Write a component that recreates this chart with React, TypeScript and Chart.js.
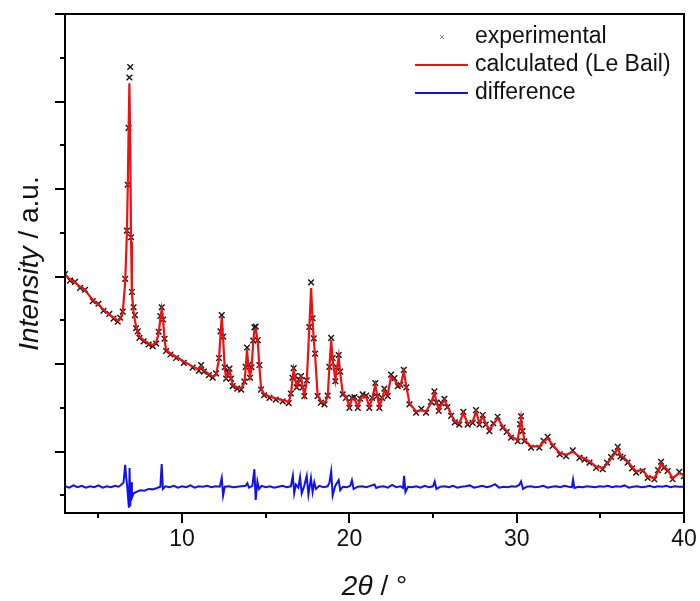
import React, { useEffect, useRef } from 'react';
import { Chart, registerables } from 'chart.js';

Chart.register(...registerables);

// 2θ positions (degrees) for the observed / calculated patterns
const twoTheta = [
  3.0, 3.3, 3.6, 3.9, 4.2, 4.66, 5.0, 5.3, 5.65, 5.9,
  6.15, 6.3, 6.45, 6.6, 6.7, 6.75, 6.8, 6.85, 6.9, 6.95,
  7.0, 7.1, 7.18, 7.25, 7.35, 7.45, 7.7, 8.0, 8.24, 8.45,
  8.6, 8.7, 8.78, 8.86, 8.95, 9.04, 9.3, 9.64, 10.1, 10.63,
  11.0, 11.14, 11.3, 11.6, 11.83, 12.03, 12.2, 12.3, 12.37, 12.45,
  12.55, 12.63, 12.75, 12.83, 12.92, 13.02, 13.3, 13.53, 13.72, 13.8,
  13.88, 13.96, 14.06, 14.15, 14.25, 14.32, 14.4, 14.52, 14.62, 14.72,
  14.9, 15.22, 15.6, 16.01, 16.37, 16.5, 16.6, 16.67, 16.75, 16.85,
  16.91, 17.0, 17.11, 17.2, 17.31, 17.45, 17.6, 17.71, 17.8, 17.87,
  17.95, 18.1, 18.3, 18.51, 18.7, 18.8, 18.91, 19.0, 19.16, 19.25,
  19.36, 19.45, 19.6, 19.8, 20.0, 20.15, 20.3, 20.5, 20.65, 20.79,
  21.0, 21.19, 21.35, 21.55, 21.65, 21.79, 21.95, 22.09, 22.29, 22.49,
  22.69, 22.89, 23.05, 23.25, 23.4, 23.59, 23.99, 24.3, 24.58, 24.88,
  25.08, 25.2, 25.34, 25.5, 25.68, 25.85, 26.08, 26.3, 26.57, 26.81,
  27.07, 27.37, 27.57, 27.77, 27.97, 28.15, 28.37, 28.6, 28.86, 29.16,
  29.4, 29.66, 30.06, 30.2, 30.26, 30.35, 30.46, 30.86, 31.35, 31.6,
  31.85, 32.15, 32.57, 32.95, 33.35, 33.75, 34.05, 34.35, 34.75, 35.14,
  35.4, 35.64, 35.85, 36.04, 36.2, 36.34, 36.63, 36.9, 37.14, 37.53,
  37.83, 38.23, 38.45, 38.63, 38.8, 39.02, 39.32, 39.72, 40.0,
];

// calculated (Le Bail) intensity, arbitrary units
const calculated = [
  5.04, 4.94, 4.86, 4.77, 4.68, 4.47, 4.36, 4.25, 4.13, 4.07,
  4.00, 4.03, 4.17, 4.9, 6.0, 7.0, 8.3, 9.42, 8.0, 5.8,
  4.6, 4.2, 4.0, 3.86, 3.72, 3.63, 3.55, 3.48, 3.44, 3.50,
  3.70, 4.05, 4.26, 4.05, 3.55, 3.33, 3.25, 3.17, 3.06, 2.95,
  2.88, 2.95, 2.86, 2.78, 2.72, 2.76, 3.1, 3.7, 4.09, 3.6,
  2.9, 2.70, 2.78, 2.87, 2.70, 2.53, 2.47, 2.45, 2.57, 2.9,
  3.34, 2.95, 2.72, 2.9, 3.5, 3.78, 3.80, 3.52, 2.95, 2.45,
  2.32, 2.26, 2.22, 2.18, 2.14, 2.30, 2.65, 2.87, 2.70, 2.50,
  2.53, 2.62, 2.70, 2.50, 2.30, 2.60, 3.8, 4.74, 4.0, 3.55,
  3.2, 2.30, 2.15, 2.11, 2.25, 2.9, 3.55, 3.1, 2.64, 2.9,
  3.17, 2.8, 2.34, 2.26, 2.03, 2.20, 2.22, 2.03, 2.18, 2.28,
  2.25, 2.03, 2.2, 2.53, 2.3, 2.03, 2.2, 2.41, 2.30, 2.72,
  2.64, 2.53, 2.5, 2.83, 2.5, 2.11, 1.92, 1.95, 1.92, 2.11,
  2.34, 2.15, 1.96, 2.08, 2.18, 2.05, 1.85, 1.70, 1.65, 1.88,
  1.65, 1.69, 1.92, 1.65, 1.81, 1.65, 1.50, 1.62, 1.77, 1.58,
  1.48, 1.35, 1.27, 1.6, 1.77, 1.5, 1.27, 1.12, 1.12, 1.22,
  1.31, 1.16, 0.97, 0.93, 1.00, 0.89, 0.85, 0.78, 0.66, 0.63,
  0.72, 0.85, 0.95, 1.08, 0.92, 0.89, 0.78, 0.65, 0.55, 0.59,
  0.43, 0.40, 0.55, 0.74, 0.66, 0.59, 0.40, 0.51, 0.47,
];

// experimental intensity, arbitrary units
const experimental = [
  5.06, 4.91, 4.88, 4.74, 4.70, 4.44, 4.38, 4.22, 4.15, 4.04,
  3.97, 4.06, 4.20, 4.95, 6.05, 7.1, 8.4, 9.55, 9.79, 5.9,
  4.65, 4.30, 4.12, 3.82, 3.75, 3.60, 3.52, 3.45, 3.41, 3.47,
  3.74, 4.10, 4.30, 4.02, 3.58, 3.30, 3.22, 3.14, 3.03, 2.92,
  2.85, 2.98, 2.83, 2.75, 2.69, 2.79, 3.14, 3.75, 4.12, 3.63,
  2.93, 2.67, 2.81, 2.90, 2.67, 2.50, 2.44, 2.42, 2.60, 2.94,
  3.38, 2.98, 2.69, 2.93, 3.54, 3.84, 3.86, 3.55, 2.98, 2.42,
  2.29, 2.23, 2.19, 2.15, 2.11, 2.33, 2.69, 2.91, 2.73, 2.47,
  2.56, 2.65, 2.73, 2.47, 2.27, 2.63, 3.85, 4.87, 4.05, 3.59,
  3.24, 2.27, 2.12, 2.08, 2.28, 2.94, 3.60, 3.14, 2.61, 2.93,
  3.21, 2.83, 2.31, 2.23, 2.00, 2.23, 2.25, 2.00, 2.21, 2.31,
  2.28, 2.00, 2.23, 2.57, 2.27, 2.00, 2.23, 2.44, 2.27, 2.76,
  2.68, 2.50, 2.53, 2.87, 2.47, 2.08, 1.89, 1.98, 1.89, 2.14,
  2.38, 2.12, 1.93, 2.11, 2.21, 2.02, 1.82, 1.67, 1.62, 1.91,
  1.62, 1.66, 1.95, 1.62, 1.84, 1.62, 1.47, 1.65, 1.80, 1.55,
  1.45, 1.32, 1.24, 1.63, 1.81, 1.47, 1.24, 1.09, 1.09, 1.25,
  1.34, 1.13, 0.94, 0.90, 1.03, 0.86, 0.82, 0.75, 0.63, 0.60,
  0.75, 0.88, 0.98, 1.11, 0.89, 0.86, 0.75, 0.62, 0.52, 0.56,
  0.40, 0.37, 0.58, 0.77, 0.63, 0.56, 0.37, 0.54, 0.44,
];

// 2θ positions (degrees) for the difference curve
const diffTheta = [
  3.0, 3.25, 3.5, 3.75, 4.0, 4.25, 4.5, 4.75, 5.0, 5.25,
  5.5, 5.75, 6.0, 6.2, 6.35, 6.5, 6.6, 6.65, 6.72, 6.78,
  6.82, 6.86, 6.9, 6.95, 7.0, 7.1, 7.3, 7.5, 7.75, 8.0,
  8.25, 8.5, 8.7, 8.78, 8.85, 9.0, 9.25, 9.5, 9.75, 10.0,
  10.25, 10.5, 10.75, 11.0, 11.25, 11.5, 11.75, 12.0, 12.25, 12.37,
  12.45, 12.55, 12.8, 13.05, 13.3, 13.55, 13.8, 13.9, 14.0, 14.2,
  14.32, 14.4, 14.5, 14.6, 14.75, 15.0, 15.25, 15.5, 15.75, 16.0,
  16.25, 16.5, 16.62, 16.7, 16.8, 16.95, 17.05, 17.15, 17.3, 17.45,
  17.55, 17.7, 17.8, 17.9, 18.0, 18.2, 18.45, 18.7, 18.8, 18.91,
  19.0, 19.15, 19.36, 19.45, 19.6, 19.85, 20.05, 20.15, 20.25, 20.5,
  20.75, 21.0, 21.25, 21.5, 21.6, 21.8, 22.05, 22.3, 22.55, 22.8,
  23.05, 23.2, 23.27, 23.35, 23.5, 23.75, 24.0, 24.25, 24.5, 24.75,
  25.0, 25.1, 25.2, 25.45, 25.7, 25.95, 26.2, 26.45, 26.7, 26.95,
  27.2, 27.45, 27.7, 27.95, 28.2, 28.45, 28.7, 28.95, 29.2, 29.45,
  29.7, 29.95, 30.15, 30.26, 30.38, 30.6, 30.85, 31.1, 31.35, 31.6,
  31.85, 32.1, 32.35, 32.6, 32.85, 33.1, 33.3, 33.37, 33.45, 33.7,
  33.95, 34.2, 34.45, 34.7, 34.95, 35.2, 35.45, 35.7, 35.95, 36.2,
  36.45, 36.7, 36.95, 37.2, 37.45, 37.7, 37.95, 38.2, 38.45, 38.7,
  38.95, 39.2, 39.45, 39.7, 40.0,
];

// difference curve (offset), arbitrary units
const difference = [
  0.21, 0.18, 0.23, 0.19, 0.22, 0.18, 0.21, 0.19, 0.23, 0.18,
  0.21, 0.19, 0.22, 0.20, 0.24, 0.30, 0.70, 0.45, 0.20, -0.10,
  -0.28, 0.63, -0.25, 0.30, -0.05, 0.05, 0.09, 0.12, 0.11, 0.15,
  0.14, 0.17, 0.20, 0.72, 0.15, 0.21, 0.19, 0.22, 0.18, 0.21,
  0.19, 0.23, 0.18, 0.21, 0.20, 0.22, 0.19, 0.21, 0.20, 0.40,
  0.00, 0.20, 0.21, 0.19, 0.20, 0.21, 0.22, 0.28, 0.18, 0.22,
  0.60, -0.10, 0.32, 0.15, 0.22, 0.19, 0.21, 0.18, 0.20, 0.22,
  0.19, 0.21, 0.45, 0.05, 0.25, 0.18, 0.42, 0.05, 0.22, 0.45,
  0.02, 0.40, 0.08, 0.30, 0.15, 0.22, 0.19, 0.21, 0.28, 0.55,
  0.00, 0.22, 0.35, 0.12, 0.20, 0.19, 0.22, 0.35, 0.15, 0.20,
  0.21, 0.19, 0.22, 0.25, 0.17, 0.20, 0.21, 0.18, 0.24, 0.19,
  0.21, 0.17, 0.45, 0.08, 0.20, 0.19, 0.21, 0.18, 0.22, 0.19,
  0.21, 0.32, 0.15, 0.20, 0.21, 0.19, 0.22, 0.18, 0.20, 0.21,
  0.23, 0.18, 0.20, 0.22, 0.19, 0.21, 0.26, 0.18, 0.20, 0.19,
  0.21, 0.20, 0.24, 0.32, 0.15, 0.20, 0.21, 0.19, 0.20, 0.22,
  0.18, 0.20, 0.21, 0.19, 0.22, 0.20, 0.19, 0.36, 0.17, 0.20,
  0.19, 0.21, 0.20, 0.19, 0.21, 0.20, 0.22, 0.19, 0.21, 0.20,
  0.23, 0.18, 0.20, 0.21, 0.19, 0.20, 0.22, 0.19, 0.21, 0.20,
  0.22, 0.19, 0.21, 0.20, 0.20,
];

const xMajorTicks = [10, 20, 30, 40];
const xMinorTicks = [5, 15, 25, 35];
const yMajorTicks = [1, 3, 5, 7, 9, 11];
const yMinorTicks = [0, 2, 4, 6, 8, 10];
const seriesLabels = ['experimental', 'calculated (Le Bail)', 'difference'];
const xTitle = [{ t: '2θ', italic: true }, { t: ' / °', italic: false }];
const yTitle = [{ t: 'Intensity', italic: true }, { t: ' / a.u.', italic: false }];

const FONT = '"Liberation Sans", Arial, Helvetica, sans-serif';
const RED = '#ee1111';
const BLUE = '#1111ee';

function drawMixed(ctx: CanvasRenderingContext2D, segs: { t: string; italic: boolean }[], size: number, cx: number, by: number) {
  const widths = segs.map((s) => {
    ctx.font = `${s.italic ? 'italic ' : ''}${size}px ${FONT}`;
    return ctx.measureText(s.t).width;
  });
  const total = widths.reduce((a, b) => a + b, 0);
  let x = cx - total / 2;
  ctx.textAlign = 'left';
  ctx.textBaseline = 'alphabetic';
  segs.forEach((s, i) => {
    ctx.font = `${s.italic ? 'italic ' : ''}${size}px ${FONT}`;
    ctx.fillText(s.t, x, by);
    x += widths[i];
  });
}

const framePlugin = {
  id: 'frame',
  afterDraw(chart: any) {
    const { ctx, chartArea: a, scales } = chart;
    const xs = scales.x;
    const ys = scales.y;
    ctx.save();
    ctx.strokeStyle = '#000';
    ctx.lineWidth = 2;
    ctx.strokeRect(a.left, a.top, a.right - a.left, a.bottom - a.top);
    ctx.beginPath();
    xMajorTicks.forEach((v) => {
      const p = Math.round(xs.getPixelForValue(v));
      ctx.moveTo(p, a.bottom);
      ctx.lineTo(p, a.bottom + 10);
    });
    xMinorTicks.forEach((v) => {
      const p = Math.round(xs.getPixelForValue(v));
      ctx.moveTo(p, a.bottom);
      ctx.lineTo(p, a.bottom + 5);
    });
    yMajorTicks.forEach((v) => {
      const p = Math.round(ys.getPixelForValue(v));
      ctx.moveTo(a.left, p);
      ctx.lineTo(a.left - 10, p);
    });
    yMinorTicks.forEach((v) => {
      const p = Math.round(ys.getPixelForValue(v));
      ctx.moveTo(a.left, p);
      ctx.lineTo(a.left - 5, p);
    });
    ctx.stroke();

    // axis titles
    ctx.fillStyle = '#111';
    drawMixed(ctx, xTitle, 28, (a.left + a.right) / 2, 595);
    ctx.save();
    ctx.translate(38, (a.top + a.bottom) / 2);
    ctx.rotate(-Math.PI / 2);
    drawMixed(ctx, yTitle, 28, 0, 0);
    ctx.restore();

    // legend
    const lx0 = a.right - 269;
    const lx1 = a.right - 216;
    const tx = a.right - 209;
    const rows = [a.top + 23, a.top + 51, a.top + 79];
    ctx.strokeStyle = '#888';
    ctx.lineWidth = 1;
    const mx = a.right - 242;
    ctx.beginPath();
    ctx.moveTo(mx - 2, rows[0] - 2);
    ctx.lineTo(mx + 2, rows[0] + 2);
    ctx.moveTo(mx + 2, rows[0] - 2);
    ctx.lineTo(mx - 2, rows[0] + 2);
    ctx.stroke();
    ctx.lineWidth = 2;
    ctx.strokeStyle = RED;
    ctx.beginPath();
    ctx.moveTo(lx0, rows[1]);
    ctx.lineTo(lx1, rows[1]);
    ctx.stroke();
    ctx.strokeStyle = BLUE;
    ctx.beginPath();
    ctx.moveTo(lx0, rows[2]);
    ctx.lineTo(lx1, rows[2]);
    ctx.stroke();
    ctx.fillStyle = '#111';
    ctx.font = `23px ${FONT}`;
    ctx.textAlign = 'left';
    ctx.textBaseline = 'middle';
    seriesLabels.forEach((l, i) => ctx.fillText(l, tx, rows[i]));
    ctx.restore();
  },
};

export default function App() {
  const ref = useRef<HTMLCanvasElement | null>(null);
  useEffect(() => {
    if (!ref.current) return;
    const pts = (xsArr: number[], ys: number[]) => xsArr.map((x, i) => ({ x, y: ys[i] }));
    const chart = new Chart(ref.current, {
      type: 'line',
      data: {
        datasets: [
          {
            label: seriesLabels[0],
            data: pts(twoTheta, experimental),
            showLine: false,
            pointStyle: 'crossRot',
            pointRadius: 4,
            pointBorderWidth: 1.4,
            pointBorderColor: '#111',
            borderColor: '#111',
            order: 3,
          },
          {
            label: seriesLabels[1],
            data: pts(twoTheta, calculated),
            borderColor: RED,
            borderWidth: 2.2,
            pointRadius: 0,
            tension: 0,
            order: 2,
          },
          {
            label: seriesLabels[2],
            data: pts(diffTheta, difference),
            borderColor: BLUE,
            borderWidth: 2,
            pointRadius: 0,
            tension: 0,
            order: 1,
          },
        ],
      },
      options: {
        animation: false,
        responsive: true,
        maintainAspectRatio: false,
        layout: { padding: { top: 14, right: 16, left: 0, bottom: 0 } },
        plugins: { legend: { display: false }, tooltip: { enabled: false } },
        scales: {
          x: {
            type: 'linear',
            min: 3,
            max: 40,
            grid: { display: false, drawTicks: false },
            border: { display: false },
            afterBuildTicks: (s: any) => {
              s.ticks = xMajorTicks.map((v) => ({ value: v }));
            },
            ticks: {
              font: { family: FONT, size: 23 },
              color: '#111',
              padding: 13,
              maxRotation: 0,
              autoSkip: false,
            },
            afterFit: (s: any) => {
              s.height = 88;
              s.paddingLeft = 0;
              s.paddingRight = 0;
            },
          },
          y: {
            type: 'linear',
            min: -0.4,
            max: 11,
            grid: { display: false, drawTicks: false },
            border: { display: false },
            ticks: { display: false },
            afterFit: (s: any) => {
              s.width = 65;
              s.paddingTop = 0;
              s.paddingBottom = 0;
            },
          },
        },
      },
      plugins: [framePlugin],
    });
    return () => chart.destroy();
  }, []);
  return (
    <div style={{ position: 'fixed', left: 0, top: 0, width: 700, height: 601, background: '#fff' }}>
      <canvas ref={ref} />
    </div>
  );
}
